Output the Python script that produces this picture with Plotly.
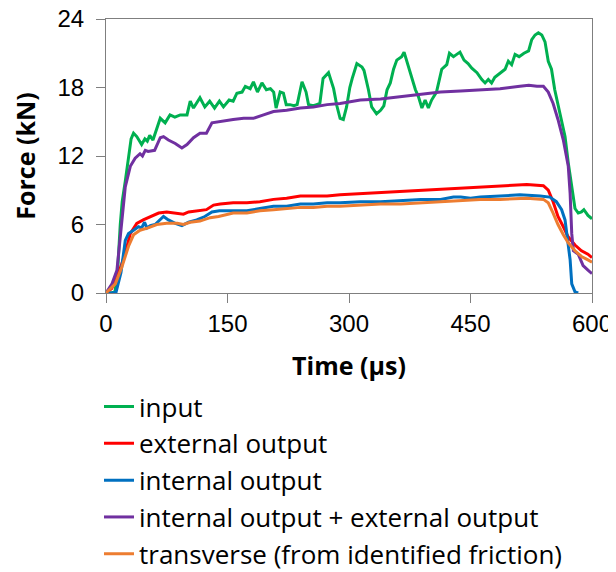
import plotly.graph_objects as go

# ---- data ----
t_input = [0, 6, 11, 14, 17.6, 20, 23.8, 27, 31, 34, 38, 44, 48, 51, 54, 58, 62, 67, 73, 79, 85, 91.7, 100, 104, 108, 116, 122, 128, 134, 140, 145, 152, 157, 161.6, 168, 172, 178, 182, 187, 192.5, 198, 203, 207, 210, 215, 219, 222.5, 227, 232, 236, 242, 247, 250, 256, 260, 264, 268, 274.7, 281, 285, 289, 293, 297, 301, 304, 309.7, 316, 318.5, 324, 328, 334, 339, 343, 347, 351, 355, 359, 365, 368, 373.6, 377.5, 382, 385.7, 390, 394, 398, 402, 408, 414.5, 420.7, 424, 429, 433, 437, 442, 447, 451.6, 458, 464, 468, 472, 476, 480, 486.5, 492.7, 496.7, 500.8, 505, 510, 516, 521.7, 525.6, 529.7, 533.8, 538, 542, 546, 550, 554, 560.5, 566.7, 570.7, 575, 579, 583, 587, 590, 595, 600]
f_input = [0, 0, 0.1, 1.5, 6.0, 8.0, 9.8, 11.5, 13.5, 14.0, 13.7, 13.0, 13.5, 13.3, 13.8, 13.4, 14.2, 15.3, 14.9, 15.6, 15.4, 15.6, 15.6, 16.8, 16.2, 17.1, 16.3, 16.8, 16.2, 16.8, 16.3, 16.9, 16.8, 17.5, 17.6, 18.1, 17.9, 18.5, 17.6, 18.4, 17.8, 17.9, 17.6, 16.2, 17.6, 17.5, 16.5, 16.5, 16.4, 16.5, 18.5, 17.6, 16.5, 16.4, 16.5, 16.6, 18.8, 19.3, 17.9, 16.4, 15.3, 15.2, 16.3, 18.0, 18.8, 20.1, 19.8, 19.5, 17.8, 16.3, 15.7, 16.0, 16.4, 17.8, 18.4, 19.6, 20.4, 20.7, 21.1, 19.8, 19.0, 17.8, 17.2, 16.2, 16.9, 16.2, 16.9, 17.6, 19.6, 20.0, 21.0, 20.7, 20.9, 21.1, 20.4, 20.1, 19.7, 19.3, 18.7, 18.4, 18.7, 18.4, 18.9, 19.3, 19.6, 20.3, 20.0, 20.9, 20.7, 21.0, 21.2, 22.2, 22.6, 22.8, 22.6, 22.0, 20.3, 19.6, 17.8, 15.7, 13.7, 11.4, 9.3, 7.4, 7.0, 7.1, 7.3, 6.8, 6.5]

t_ext = [0, 7, 14.5, 19, 23.8, 30, 38, 46, 54.7, 65, 75, 88, 95.6, 102, 112, 124, 132.8, 141, 157, 174, 190, 206.8, 223, 240, 256, 273, 289, 314, 339, 364, 389, 413, 438, 462, 486.5, 519.5, 540, 546, 552, 558, 564.6, 570.7, 579, 587, 595, 600]
f_ext = [0, 0.4, 1.5, 2.5, 3.5, 5.2, 6.1, 6.4, 6.7, 7.0, 7.1, 7.0, 6.9, 7.1, 7.2, 7.3, 7.7, 7.8, 7.9, 7.9, 8.0, 8.2, 8.3, 8.5, 8.5, 8.5, 8.6, 8.7, 8.8, 8.9, 9.0, 9.1, 9.2, 9.3, 9.4, 9.5, 9.4, 9.0, 8.0, 6.7, 5.8, 4.9, 4.2, 3.7, 3.4, 3.1]

t_int = [0, 8, 12.5, 18.5, 23.8, 27.8, 34, 40, 44, 47.6, 50.5, 54.7, 60.6, 67, 71, 77, 85.5, 93.7, 102, 112, 122, 130.8, 140, 157, 174, 190, 206.8, 223, 240, 256, 273, 289, 314, 339, 364, 389, 413, 429, 438, 450, 462, 486.5, 511, 536, 548, 556, 562.5, 566.7, 569.5, 573, 575, 579, 583]
f_int = [0, 0, 0.1, 1.8, 4.6, 5.2, 5.5, 5.8, 5.7, 6.2, 5.7, 5.9, 6.0, 6.4, 6.7, 6.4, 6.1, 5.9, 6.2, 6.4, 6.7, 7.1, 7.2, 7.2, 7.2, 7.4, 7.6, 7.6, 7.8, 7.8, 7.9, 7.9, 8.0, 8.0, 8.1, 8.2, 8.2, 8.4, 8.4, 8.3, 8.4, 8.5, 8.6, 8.5, 8.4, 8.0, 7.3, 6.4, 4.9, 2.9, 0.8, 0.1, 0.0]

t_sum = [0, 7.4, 13.5, 18.5, 23.8, 30, 36, 42, 45, 48.5, 52, 60, 67, 71, 77, 85.5, 93.7, 100, 108, 116, 124, 130.8, 139, 157, 170, 182, 194.5, 206.8, 223, 240, 256, 273, 289, 314, 339, 364, 389, 413, 437.8, 462, 486.5, 511, 522, 532, 540, 546, 552, 558, 564.6, 570.7, 573, 575, 577, 583, 589, 595, 600]
f_sum = [0, 0.8, 2.0, 5.8, 9.3, 11.1, 11.8, 12.2, 12.0, 12.5, 12.4, 12.5, 13.6, 13.7, 13.4, 13.1, 12.7, 13.0, 13.6, 14.0, 14.0, 14.9, 15.0, 15.2, 15.3, 15.3, 15.6, 15.9, 16.0, 16.2, 16.3, 16.5, 16.6, 16.9, 17.0, 17.2, 17.4, 17.6, 17.7, 17.8, 17.9, 18.1, 18.2, 18.1, 18.1, 17.6, 16.6, 15.2, 13.4, 11.1, 8.7, 5.2, 3.7, 3.4, 2.4, 2.0, 1.7]

t_trans = [0, 11.5, 19.7, 27.8, 34, 42, 52, 62.6, 75, 88, 95.6, 104, 116, 128.6, 139, 157, 174, 190, 206.8, 223, 240, 256, 273, 289, 314, 339, 364, 389, 413, 438, 462, 486.5, 519.5, 540, 546, 552, 558, 564.6, 570.7, 579, 587, 595, 600]
f_trans = [0, 0.8, 2.3, 4.1, 5.1, 5.5, 5.7, 6.0, 6.1, 6.1, 6.0, 6.2, 6.3, 6.6, 6.7, 7.0, 7.0, 7.2, 7.3, 7.4, 7.5, 7.5, 7.6, 7.6, 7.7, 7.8, 7.8, 7.9, 8.0, 8.1, 8.2, 8.2, 8.3, 8.2, 7.9, 7.0, 6.0, 5.1, 4.4, 3.7, 3.2, 2.9, 2.7]

names = ["input", "external output", "internal output",
         "internal output + external output",
         "transverse (from identified friction)"]
colors = ["#00B050", "#FF0000", "#0070C0", "#7030A0", "#ED7D31"]
series = [(t_input, f_input), (t_ext, f_ext), (t_int, f_int),
          (t_sum, f_sum), (t_trans, f_trans)]

x_ticks = [0, 150, 300, 450, 600]
y_ticks = [0, 6, 12, 18, 24]

fig = go.Figure()
for i, ((tx, fy), name, col) in enumerate(zip(series, names, colors)):
    fig.add_trace(go.Scatter(x=tx, y=fy, mode="lines", name=name,
                             line=dict(color=col, width=3)))

axis_common = dict(showline=True, linecolor="#7f7f7f", linewidth=1.2,
                   mirror=True, ticks="outside", ticklen=9,
                   tickcolor="#7f7f7f", tickwidth=1.2, showgrid=False,
                   zeroline=False, ticklabeloverflow="allow",
                   tickfont=dict(family="Liberation Sans", size=24, color="#000"))

fig.update_xaxes(range=[0, 600], tickvals=x_ticks,
                 title=dict(text="<b>Time (µs)</b>",
                            font=dict(family="Open Sans", size=25, color="#000"),
                            standoff=21),
                 **axis_common)
fig.update_yaxes(range=[0, 24], tickvals=y_ticks, ticklabelstandoff=7,
                 title=dict(text="<b>Force (kN)</b>",
                            font=dict(family="Open Sans", size=25, color="#000"),
                            standoff=18),
                 **axis_common)

# page has an 8px body margin, so the figure is 8px smaller than the window
fig.update_layout(
    width=608, height=564,
    margin=dict(l=98, r=24, t=11, b=279, autoexpand=False),
    plot_bgcolor="white", paper_bgcolor="white",
    legend=dict(x=-0.0144, y=-0.329, xanchor="left", yanchor="top",
                font=dict(family="Open Sans", size=26, color="#000"),
                bgcolor="rgba(0,0,0,0)"),
)

fig.write_html("out.html")
